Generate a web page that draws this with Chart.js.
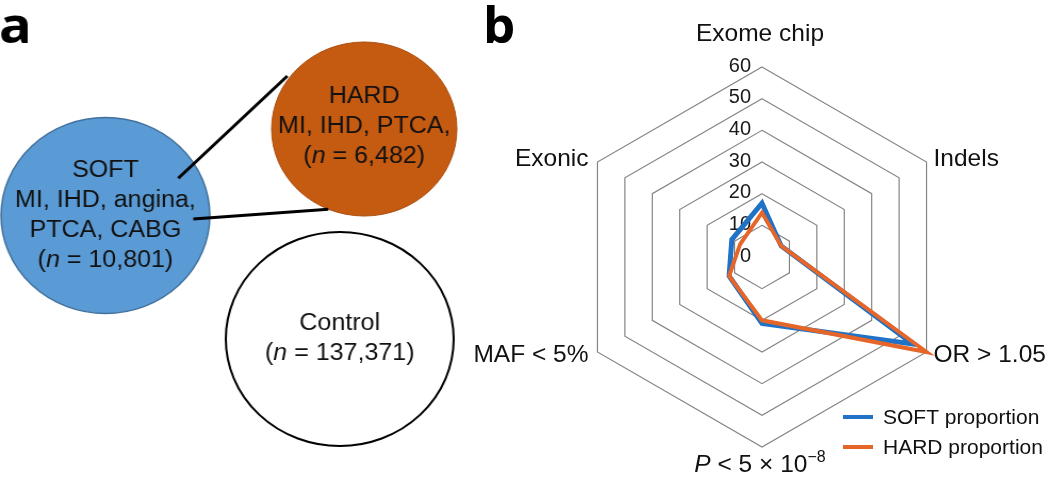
<!DOCTYPE html>
<html>
<head>
<meta charset="utf-8">
<script src="https://cdn.jsdelivr.net/npm/chart.js@4.4.0/dist/chart.umd.min.js"></script>
<style>
    html, body { margin: 0; padding: 0; background: #fff; }
    body { width: 1050px; height: 481px; position: relative; overflow: hidden; }
    #panel-a { position: absolute; left: 0; top: 0; width: 440px; height: 481px; transform: scaleX(1.065); transform-origin: 0 0; }
    #panel-b { position: absolute; left: 460px; top: 0; width: 590px; height: 481px; }
</style>
</head>
<body>
<div id="panel-a"><canvas id="groups-chart"></canvas></div>
<div id="panel-b"><canvas id="radar-chart"></canvas></div>
<script>
// Panel a: case definitions
const groupNames = ['SOFT', 'HARD', 'Control'];
const groupPhenotypes = [['MI, IHD, angina,', 'PTCA, CABG'], ['MI, IHD, PTCA,'], []];
const groupSizes = ['10,801', '6,482', '137,371'];

// Panel b: radar
const radarCategories = ['Exome chip', 'Indels', 'OR > 1.05', 'P < 5 × 10^−8', 'MAF < 5%', 'Exonic'];
const softProportion = [17, 7, 55, 21, 12, 11];
const hardProportion = [14, 7, 60, 20, 12, 8];
const radarTicks = [0, 10, 20, 30, 40, 50, 60];

// layout of the circle diagram (pixels of the unstretched panel)
const circleLayout = [
    { x: 99, y: 215.5, r: 98, fill: '#5b9bd5', stroke: '#41719c', width: 1.5, textTop: -38.5 },
    { x: 342, y: 129, r: 87, fill: '#c55a11', stroke: '#a94d0f', width: 1, textTop: -26 },
    { x: 319, y: 339, r: 107, fill: '#ffffff', stroke: '#000000', width: 2, textTop: -9 }
];
const connectorLayout = [
    [{ x: 167.4, y: 178.3 }, { x: 269.8, y: 76 }],
    [{ x: 181.5, y: 219 }, { x: 308.3, y: 209.3 }]
];

const FONT = '"Liberation Sans", Arial, sans-serif';
const TEXT_COLOR = '#111';

/**
 * Draw a list of [text, style] runs aligned on x.
 */
function drawRuns(ctx, runs, x, y, size, align) {
    const fontFor = (style) => {
        if (style === 'italic') return 'italic ' + size + 'px ' + FONT;
        if (style === 'sup') return Math.round(size * 0.67) + 'px ' + FONT;
        return size + 'px ' + FONT;
    };
    let total = 0;
    runs.forEach(([text, style]) => {
        ctx.font = fontFor(style);
        total += ctx.measureText(text).width;
    });
    let cx = align === 'center' ? x - total / 2 : (align === 'right' ? x - total : x);
    ctx.textAlign = 'left';
    runs.forEach(([text, style]) => {
        ctx.font = fontFor(style);
        ctx.fillText(text, cx, style === 'sup' ? y - size * 0.4 : y);
        cx += ctx.measureText(text).width;
    });
}

/**
 * Split a category label into runs: a leading "P" is italic, "^..." is superscript.
 */
function labelRuns(label) {
    const runs = [];
    let rest = label;
    if (rest.startsWith('P ')) {
        runs.push(['P', 'italic']);
        rest = rest.substring(1);
    }
    const parts = rest.split('^');
    runs.push([parts[0], 'normal']);
    if (parts.length > 1) runs.push([parts[1], 'sup']);
    return runs;
}

const groupLabelsPlugin = {
    id: 'groupLabels',
    afterDatasetsDraw(chart) {
        const ctx = chart.ctx;
        const meta = chart.getDatasetMeta(chart.data.datasets.length - 1);
        ctx.save();
        ctx.fillStyle = TEXT_COLOR;
        ctx.textBaseline = 'alphabetic';
        meta.data.forEach((pt, i) => {
            let y = pt.y + circleLayout[i].textTop;
            [groupNames[i]].concat(groupPhenotypes[i]).forEach(line => {
                ctx.font = '23.5px ' + FONT;
                ctx.textAlign = 'center';
                ctx.fillText(line, pt.x, y);
                y += 30;
            });
            drawRuns(ctx, [['(', 'normal'], ['n', 'italic'], [' = ' + groupSizes[i] + ')', 'normal']], pt.x, y, 23.5, 'center');
        });
        ctx.fillStyle = '#000';
        ctx.font = 'bold 51px "Open Sans", sans-serif';
        ctx.textAlign = 'left';
        ctx.fillText('a', -1, 43);
        ctx.restore();
    }
};

const radarTextPlugin = {
    id: 'radarText',
    beforeDatasetsDraw(chart) {
        // tick labels, right aligned just left of the vertical axis
        const scale = chart.scales.r;
        const ctx = chart.ctx;
        ctx.save();
        ctx.fillStyle = '#1a1a1a';
        ctx.font = '20px ' + FONT;
        ctx.textAlign = 'right';
        ctx.textBaseline = 'middle';
        scale.ticks.forEach(tick => {
            const d = scale.getDistanceFromCenterForValue(tick.value);
            ctx.fillText(tick.label, scale.xCenter - 11, scale.yCenter - d - 1);
        });
        ctx.restore();
    },
    afterDraw(chart) {
        const scale = chart.scales.r;
        const ctx = chart.ctx;
        const ox = 20; // canvas starts 20px left of the old 480px panel edge
        ctx.save();
        ctx.fillStyle = TEXT_COLOR;
        ctx.textBaseline = 'alphabetic';

        // category labels around the hexagon
        chart.data.labels.forEach((label, i) => {
            const p = scale.getPointPositionForValue(i, scale.max);
            const dx = p.x - scale.xCenter;
            const dy = p.y - scale.yCenter;
            let align, x, y;
            if (Math.abs(dx) < 1) {
                align = 'center';
                x = p.x - 2;
                y = dy < 0 ? p.y - 26 : p.y + 25;
            } else {
                align = dx > 0 ? 'left' : 'right';
                x = dx > 0 ? p.x + 7 : p.x - 9;
                y = dy < 0 ? p.y + 4 : p.y + 10;
            }
            drawRuns(ctx, labelRuns(label), x, y, 24.5, align);
        });

        // legend
        chart.data.datasets.forEach((ds, i) => {
            const y = 417 + i * 30;
            ctx.strokeStyle = ds.borderColor;
            ctx.lineWidth = 4;
            ctx.beginPath();
            ctx.moveTo(363 + ox, y);
            ctx.lineTo(393 + ox, y);
            ctx.stroke();
            ctx.font = '21px ' + FONT;
            ctx.textAlign = 'left';
            ctx.textBaseline = 'middle';
            ctx.fillText(ds.label, 403 + ox, y + 1);
        });

        ctx.textBaseline = 'alphabetic';
        ctx.fillStyle = '#000';
        ctx.font = 'bold 51px "Open Sans", sans-serif';
        ctx.fillText('b', 3 + ox, 43);
        ctx.restore();
    }
};

function initializeGroupsChart() {
    const connectors = connectorLayout.map(points => ({
        type: 'line',
        data: points,
        borderColor: '#000',
        borderWidth: 3,
        pointRadius: 0,
        showLine: true,
        fill: false,
        clip: false,
        order: 0
    }));

    // scatter points drawn as big circles
    new Chart(document.getElementById('groups-chart'), {
        type: 'scatter',
        data: {
            datasets: connectors.concat([{
                label: 'groups',
                data: circleLayout.map(c => ({ x: c.x, y: c.y })),
                pointRadius: circleLayout.map(c => c.r),
                pointBackgroundColor: circleLayout.map(c => c.fill),
                pointBorderColor: circleLayout.map(c => c.stroke),
                pointBorderWidth: circleLayout.map(c => c.width),
                showLine: false,
                clip: false,
                order: 1
            }])
        },
        options: {
            responsive: true,
            maintainAspectRatio: false,
            animation: false,
            events: [],
            layout: { padding: 0, autoPadding: false },
            scales: {
                x: { type: 'linear', display: false, min: 0, max: 440 },
                y: { type: 'linear', display: false, min: 0, max: 481, reverse: true }
            },
            plugins: {
                legend: { display: false },
                tooltip: { enabled: false }
            }
        },
        plugins: [groupLabelsPlugin]
    });
}

function initializeRadarChart() {
    new Chart(document.getElementById('radar-chart'), {
        type: 'radar',
        data: {
            labels: radarCategories,
            datasets: [{
                label: 'SOFT proportion',
                data: softProportion,
                borderColor: '#1f72c6',
                borderWidth: 5,
                order: 2
            }, {
                label: 'HARD proportion',
                data: hardProportion,
                borderColor: '#e6662a',
                borderWidth: 4,
                order: 1
            }]
        },
        options: {
            responsive: true,
            maintainAspectRatio: false,
            animation: false,
            events: [],
            layout: { padding: { left: 112, right: 98, top: 67, bottom: 34 }, autoPadding: false },
            elements: {
                point: { radius: 0 },
                line: { fill: false, tension: 0, borderJoinStyle: 'miter' }
            },
            scales: {
                r: {
                    min: 0,
                    max: 60,
                    afterBuildTicks: (scale) => {
                        scale.ticks = radarTicks.map(v => ({ value: v }));
                    },
                    ticks: { display: false },
                    grid: { color: '#858585', lineWidth: 1.2 },
                    angleLines: { display: false },
                    pointLabels: { display: false }
                }
            },
            plugins: {
                legend: { display: false },
                tooltip: { enabled: false }
            }
        },
        plugins: [radarTextPlugin]
    });
}

initializeGroupsChart();
initializeRadarChart();
</script>
</body>
</html>
